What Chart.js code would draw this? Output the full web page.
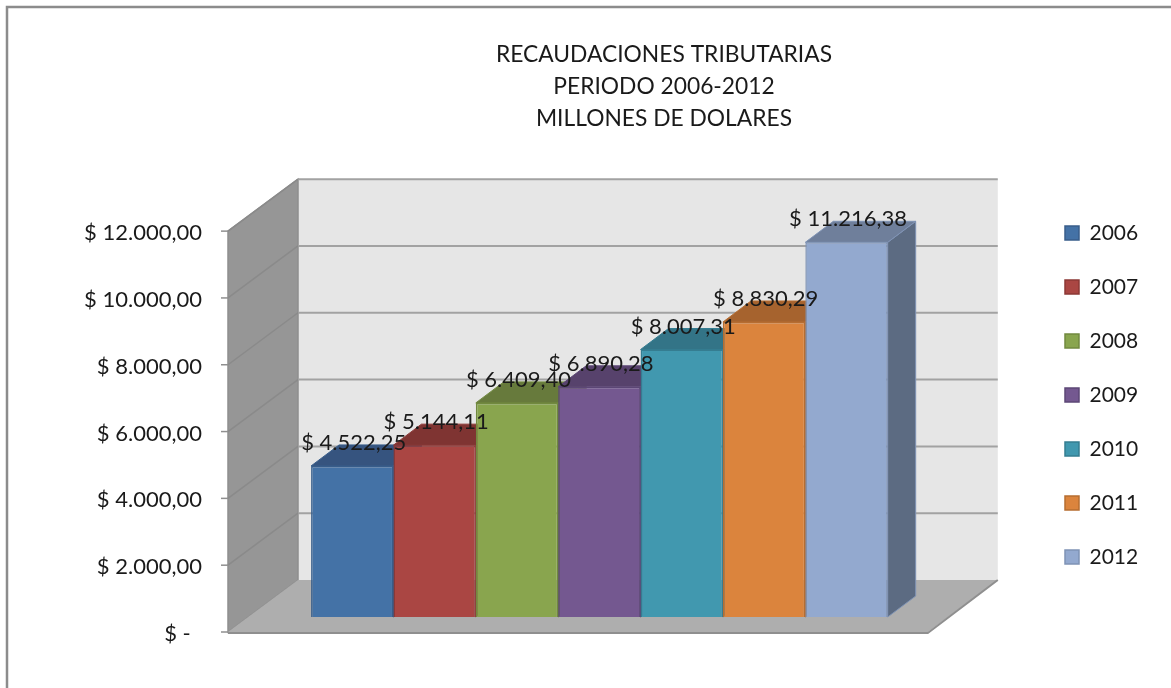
<!DOCTYPE html>
<html><head><meta charset="utf-8">
<script src="https://cdn.jsdelivr.net/npm/chart.js@4"></script>
<style>html,body{margin:0;padding:0;background:#fff;overflow:hidden}canvas{display:block}</style>
</head><body><canvas id="c" width="1171" height="688"></canvas>
<script>
const titleLines = ['RECAUDACIONES TRIBUTARIAS','PERIODO 2006-2012','MILLONES DE DOLARES'];
const categories = ['RECAUDACIONES'];
const years = ['2006','2007','2008','2009','2010','2011','2012'];
const values = [4522.25,5144.11,6409.40,6890.28,8007.31,8830.29,11216.38];
const valueLabels = ['$ 4.522,25','$ 5.144,11','$ 6.409,40','$ 6.890,28','$ 8.007,31','$ 8.830,29','$ 11.216,38'];
const tickLabels = {0:'$ -  ',2000:'$ 2.000,00',4000:'$ 4.000,00',6000:'$ 6.000,00',8000:'$ 8.000,00',10000:'$ 10.000,00',12000:'$ 12.000,00'};
const fronts = ['#4472a6','#aa4643','#89a54e','#745890','#4198af','#db843d','#93a9cf'];
const borders = ['#385d8a','#8c3836','#71893f','#5c4776','#357d91','#b66d31','#7f93b5'];
const tops = ['#36547f','#7f3432','#677a3c','#57426c','#337487','#a6632e','#6f7f9b'];
const sides = ['#34507a','#7a3230','#62753a','#533f68','#316f82','#9f5f2c','#5c6b82'];
const FONT = 'Lato, Carlito, sans-serif';
const TEXT = '#1a1a1a';
const WALL_DX = 70, WALL_DY = -52;   // depth of the 3D room
const BAR_SHIFT_X = 21.5, BAR_SHIFT_Y = -15; // bars stand inside the floor
const BAR_DX = 28, BAR_DY = -21;      // depth of each bar

function poly(ctx, pts, fill, stroke, lw){
  ctx.beginPath();
  pts.forEach((p,i)=> i?ctx.lineTo(p[0],p[1]):ctx.moveTo(p[0],p[1]));
  ctx.closePath();
  if(fill){ctx.fillStyle=fill;ctx.fill();}
  if(stroke){ctx.strokeStyle=stroke;ctx.lineWidth=lw||1;ctx.stroke();}
}
const room3d = {
  id:'room3d',
  afterLayout(chart){
    chart.titleBlock.left = 157; chart.titleBlock.right = 1171;
    chart.legend.left = 1032; chart.legend.right = 1171;
    chart.legend.top = 171; chart.legend.bottom = 619;
  },
  beforeDraw(chart){
    const ctx=chart.ctx;
    ctx.save();
    ctx.strokeStyle='#8c8c8c';ctx.lineWidth=2.5;
    ctx.strokeRect(7,7,1300,800);
    ctx.restore();
    chart.scales.y.getLabelItems().forEach(it=>{it.options.translation[1]+=2;});
  },
  beforeDatasetsDraw(chart){
    const ctx=chart.ctx, y=chart.scales.y, a=chart.chartArea;
    const y0=y.getPixelForValue(0), yT=y.getPixelForValue(12000);
    ctx.save();
    // back wall
    poly(ctx,[[a.left+WALL_DX,yT+WALL_DY],[a.right+WALL_DX,yT+WALL_DY],[a.right+WALL_DX,y0+WALL_DY],[a.left+WALL_DX,y0+WALL_DY]],'#e6e6e6');
    // left wall
    poly(ctx,[[a.left,yT],[a.left+WALL_DX,yT+WALL_DY],[a.left+WALL_DX,y0+WALL_DY],[a.left,y0]],'#969696','#8f8f8f',1.5);
    // floor
    poly(ctx,[[a.left,y0],[a.right,y0],[a.right+WALL_DX,y0+WALL_DY],[a.left+WALL_DX,y0+WALL_DY]],'#aeaeae');
    ctx.strokeStyle='#8f8f8f';ctx.lineWidth=2;
    ctx.beginPath();ctx.moveTo(a.left,y0+1);ctx.lineTo(a.right,y0+1);ctx.lineTo(a.right+WALL_DX,y0+WALL_DY);ctx.stroke();
    // gridlines on back and left wall
    y.ticks.forEach(t=>{
      const py=y.getPixelForValue(t.value);
      if(t.value>0){
        ctx.strokeStyle='#a2a2a2';ctx.lineWidth=2;
        ctx.beginPath();ctx.moveTo(a.left+WALL_DX,py+WALL_DY);ctx.lineTo(a.right+WALL_DX,py+WALL_DY);ctx.stroke();
        ctx.strokeStyle='#8a8a8a';ctx.lineWidth=1.5;
        ctx.beginPath();ctx.moveTo(a.left,py);ctx.lineTo(a.left+WALL_DX,py+WALL_DY);ctx.stroke();
      }
      ctx.strokeStyle='#8f8f8f';ctx.lineWidth=1.5;
      ctx.beginPath();ctx.moveTo(a.left-7,py);ctx.lineTo(a.left,py);ctx.stroke();
    });
    ctx.restore();
    // bars, left to right so each one hides the depth of the previous one
    ctx.save();
    ctx.translate(BAR_SHIFT_X,BAR_SHIFT_Y);
    years.forEach((_,i)=>{
      const bar=chart.getDatasetMeta(i).data[0];
      const l=bar.x-bar.width/2, r=bar.x+bar.width/2, t=bar.y, b=bar.base;
      poly(ctx,[[r,t],[r+BAR_DX,t+BAR_DY],[r+BAR_DX,b+BAR_DY],[r,b]],sides[i],borders[i],1);
      poly(ctx,[[l,t],[l+BAR_DX,t+BAR_DY],[r+BAR_DX,t+BAR_DY],[r,t]],tops[i],borders[i],1);
      bar.draw(ctx);
    });
    ctx.restore();
    ctx.save();
    ctx.font='22px '+FONT;ctx.fillStyle=TEXT;ctx.textAlign='center';ctx.textBaseline='middle';
    years.forEach((_,i)=>{
      const bar=chart.getDatasetMeta(i).data[0];
      ctx.fillText(valueLabels[i],bar.x+BAR_SHIFT_X+1.5,bar.y+BAR_SHIFT_Y-23);
    });
    ctx.restore();
    return false;
  }
};
new Chart(document.getElementById('c'),{
  type:'bar',
  data:{labels:categories,datasets:years.map((yr,i)=>({
    label:yr,data:[values[i]],backgroundColor:fronts[i],borderColor:borders[i],borderWidth:1.5,
    clip:false,categoryPercentage:0.824,barPercentage:1
  }))},
  plugins:[room3d],
  options:{
    responsive:false,animation:false,
    layout:{padding:{left:0,right:127,top:0,bottom:56}},
    plugins:{
      tooltip:{enabled:false},
      title:{display:true,text:titleLines,color:TEXT,font:{family:FONT,size:22.8,weight:'normal',lineHeight:1.42},padding:{top:38,bottom:96}},
      legend:{display:true,position:'right',
        labels:{boxWidth:14,boxHeight:14,padding:33,color:TEXT,font:{family:FONT,size:21}}}
    },
    scales:{
      x:{display:false,grid:{display:false}},
      y:{min:0,max:12000,
        afterFit(s){s.width=228;},
        ticks:{stepSize:2000,color:TEXT,padding:18,font:{family:FONT,size:22},callback:v=>tickLabels[v]},
        grid:{display:false},border:{display:false}}
    }
  }
});
</script></body></html>
